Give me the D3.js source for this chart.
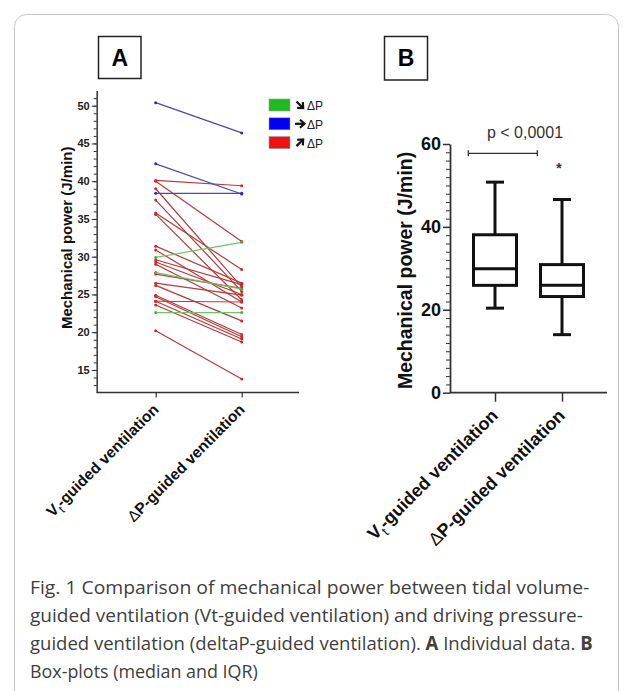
<!DOCTYPE html>
<html>
<head>
<meta charset="utf-8">
<script src="https://cdn.jsdelivr.net/npm/d3@7"></script>
<style>
body { margin: 0; background: #fff; }
svg text { font-family: "Liberation Sans", Arial, sans-serif; }
.caption { font-family: "Open Sans", sans-serif; fill: #404040; }
</style>
</head>
<body>
<svg id="fig" width="633" height="691"></svg>
<script>
// ---- data ----
const categories = ["Vt", "dP"]
// panel A : individual patients, [Vt-guided, dP-guided]
const blueLeft  = [50.4, 42.3, 38.4]
const blueRight = [46.4, 38.3, 38.4]
const greenLeft  = [29.9, 27.9, 22.6]
const greenRight = [31.9, 25.7, 22.6]
const redLeft  = [40.1, 40.0, 39.0, 37.5, 35.8, 35.6, 31.4, 30.9, 29.6, 29.3, 29.0, 27.7, 26.5, 26.2, 24.9, 24.7, 24.1, 24.1, 23.6, 20.2]
const redRight = [39.4, 32.0, 26.0, 25.4, 28.3, 24.3, 26.5, 24.0, 26.3, 25.0, 23.2, 25.8, 24.9, 21.5, 19.7, 19.4, 24.0, 19.1, 18.7, 13.8]
const yTicksA = [15, 20, 25, 30, 35, 40, 45, 50]
// panel B : box plots [min, q1, median, q3, max]
const boxVt = [20.4, 25.9, 29.9, 38.1, 50.8]
const boxDP = [14.0, 23.2, 25.9, 30.9, 46.6]
const yTicksB = [0, 20, 40, 60]
const pText = "p < 0,0001"

const svg = d3.select("#fig")

// frame
svg.append("rect").attr("x", 14.5).attr("y", 14.5).attr("width", 604).attr("height", 700)
  .attr("rx", 12).attr("fill", "none").attr("stroke", "#c8c8c8").attr("stroke-width", 1)

// ================= panel A =================
let yA = d3.scaleLinear().domain([12, 52]).range([392.6, 90.6])
let xA = d3.scalePoint().domain(categories).range([155.7, 241.7])
const axisYA = 392.6, axisXA = 96.7

// panel letter
function letterBox(x, y, w, h, t) {
  svg.append("rect").attr("x", x).attr("y", y).attr("width", w).attr("height", h)
    .attr("fill", "none").attr("stroke", "#222").attr("stroke-width", 1.5)
  svg.append("text").attr("x", x + w / 2).attr("y", y + h / 2 + 8)
    .attr("text-anchor", "middle").attr("font-size", 23).attr("font-weight", "bold").text(t)
}
letterBox(98.5, 36.5, 42.5, 42, "A")
letterBox(384.5, 36.5, 43, 43.5, "B")

// lines
function pairs(L, R, lineCol, dotCol) {
  let g = svg.append("g")
  L.forEach(function (d, i) {
    g.append("line")
      .attr("x1", xA("Vt")).attr("y1", yA(L[i]))
      .attr("x2", xA("dP")).attr("y2", yA(R[i]))
      .attr("stroke", lineCol).attr("stroke-width", 1.2)
    g.append("circle").attr("cx", xA("Vt")).attr("cy", yA(L[i])).attr("r", 1.5).attr("fill", dotCol)
    g.append("circle").attr("cx", xA("dP")).attr("cy", yA(R[i])).attr("r", 1.5).attr("fill", dotCol)
  })
}
pairs(redLeft, redRight, "#b83a3a", "#dd2222")
pairs(greenLeft, greenRight, "#6cc46c", "#44b044")
pairs(blueLeft, blueRight, "#4848b8", "#2828c0")

// y axis A
let minorA = d3.range(13, 52)
svg.append("g").attr("transform", `translate(${axisXA},0)`)
  .call(d3.axisLeft(yA).tickValues(minorA).tickSize(3).tickFormat(""))
  .call(g => g.select(".domain").remove())
  .selectAll("line").attr("stroke", "#333")
svg.append("g").attr("transform", `translate(${axisXA},0)`)
  .call(d3.axisLeft(yA).tickValues(yTicksA).tickSize(5).tickSizeOuter(0).tickPadding(2))
  .call(g => g.select(".domain").attr("stroke", "#333").attr("stroke-width", 1.5))
  .call(g => g.selectAll("text").attr("font-size", 11).attr("font-weight", "bold").attr("fill", "#222")
    .attr("font-family", "Liberation Sans, Arial, sans-serif"))
  .call(g => g.selectAll("line").attr("stroke", "#333"))

// x axis A
svg.append("line").attr("x1", axisXA).attr("x2", 299).attr("y1", axisYA).attr("y2", axisYA)
  .attr("stroke", "#333").attr("stroke-width", 1.5)
svg.append("g").attr("transform", `translate(0,${axisYA})`)
  .call(d3.axisBottom(xA).tickSize(5).tickFormat(""))
  .call(g => g.select(".domain").remove())
  .selectAll("line").attr("stroke", "#333").attr("stroke-width", 1.2)

function catLabel(x, y, size, cat) {
  let t = svg.append("text").attr("transform", `translate(${x},${y}) rotate(-45)`)
    .attr("text-anchor", "end").attr("font-size", size).attr("font-weight", "bold").attr("fill", "#111")
  if (cat == "Vt") {
    t.append("tspan").text("V")
    t.append("tspan").attr("font-size", size * 0.75).attr("font-weight", "normal").attr("dy", size * 0.3).text("t")
    t.append("tspan").attr("dy", -size * 0.3).text("-guided ventilation")
  } else {
    t.append("tspan").attr("font-weight", "normal").text("\u0394")
    t.append("tspan").text("P-guided ventilation")
  }
}
categories.forEach(c => catLabel(xA(c) + 4, axisYA + 18, 15.5, c))

// y label A
svg.append("text").attr("transform", `translate(72,${yA(32.5)}) rotate(-90)`)
  .attr("text-anchor", "middle").attr("font-size", 15).attr("font-weight", "bold").attr("fill", "#111")
  .text("Mechanical power (J/min)")

// legend A : colour swatch, bold arrow, delta P
const legendCols = ["#22b822", "#0000f0", "#ee1111"]
const legendAngles = [45, 0, -45]
legendCols.forEach(function (d, i) {
  let lg = svg.append("g").attr("transform", `translate(269,${99 + i * 18.8})`)
  lg.append("rect").attr("width", 21).attr("height", 12).attr("fill", d).attr("stroke", "#999").attr("stroke-width", 0.6)
  let ar = lg.append("g").attr("transform", `translate(31,6) rotate(${legendAngles[i]})`)
    .attr("stroke", "#111").attr("stroke-width", 2.2).attr("fill", "none")
  ar.append("line").attr("x1", -5).attr("x2", 4).attr("y1", 0).attr("y2", 0)
  ar.append("path").attr("d", "M0,-4 L4.5,0 L0,4")
  lg.append("text").attr("x", 38).attr("y", 11).attr("font-size", 12).attr("fill", "#222").text("\u0394P")
})

// ================= panel B =================
let yB = d3.scaleLinear().domain([0, 60]).range([392.7, 144])
let xB = d3.scalePoint().domain(categories).range([495, 562])
const axisXB = 450, axisYB = 392.7

svg.append("g").attr("transform", `translate(${axisXB},0)`)
  .call(d3.axisLeft(yB).tickValues(d3.range(2, 60, 2)).tickSize(4).tickFormat(""))
  .call(g => g.select(".domain").remove())
  .selectAll("line").attr("stroke", "#333")
svg.append("g").attr("transform", `translate(${axisXB},0)`)
  .call(d3.axisLeft(yB).tickValues(yTicksB).tickSize(7).tickSizeOuter(0).tickPadding(2))
  .call(g => g.select(".domain").attr("stroke", "#333").attr("stroke-width", 1.8))
  .call(g => g.selectAll("text").attr("font-size", 18).attr("font-weight", "bold").attr("fill", "#111")
    .attr("font-family", "Liberation Sans, Arial, sans-serif"))
  .call(g => g.selectAll("line").attr("stroke", "#333").attr("stroke-width", 1.5))

svg.append("line").attr("x1", axisXB).attr("x2", 607).attr("y1", axisYB).attr("y2", axisYB)
  .attr("stroke", "#333").attr("stroke-width", 1.8)
svg.append("g").attr("transform", `translate(0,${axisYB})`)
  .call(d3.axisBottom(xB).tickSize(9).tickFormat(""))
  .call(g => g.select(".domain").remove())
  .selectAll("line").attr("stroke", "#333").attr("stroke-width", 1.5)

categories.forEach(c => catLabel(xB(c) + 4, axisYB + 24, 18, c))

svg.append("text").attr("transform", `translate(412,${yB(29.5)}) rotate(-90)`)
  .attr("text-anchor", "middle").attr("font-size", 19.5).attr("font-weight", "bold").attr("fill", "#111")
  .text("Mechanical power (J/min)")

// boxes
const boxes = [boxVt, boxDP]
const boxW = 43, capW = 18
boxes.forEach(function (b, i) {
  let cx = xB(categories[i])
  let g = svg.append("g").attr("stroke", "#111").attr("stroke-width", 3).attr("fill", "none")
  g.append("line").attr("x1", cx).attr("x2", cx).attr("y1", yB(b[0])).attr("y2", yB(b[1]))
  g.append("line").attr("x1", cx).attr("x2", cx).attr("y1", yB(b[3])).attr("y2", yB(b[4]))
  g.append("line").attr("x1", cx - capW / 2).attr("x2", cx + capW / 2).attr("y1", yB(b[0])).attr("y2", yB(b[0]))
  g.append("line").attr("x1", cx - capW / 2).attr("x2", cx + capW / 2).attr("y1", yB(b[4])).attr("y2", yB(b[4]))
  g.append("rect").attr("x", cx - boxW / 2).attr("y", yB(b[3])).attr("width", boxW).attr("height", yB(b[1]) - yB(b[3]))
  g.append("line").attr("x1", cx - boxW / 2).attr("x2", cx + boxW / 2).attr("y1", yB(b[2])).attr("y2", yB(b[2]))
})

// significance bracket
let brY = 153.3
svg.append("line").attr("x1", 468.3).attr("x2", 537.3).attr("y1", brY).attr("y2", brY).attr("stroke", "#333").attr("stroke-width", 1.3)
;[468.3, 537.3].forEach(x => svg.append("line").attr("x1", x).attr("x2", x).attr("y1", brY - 3).attr("y2", brY + 3)
  .attr("stroke", "#333").attr("stroke-width", 1.3))
svg.append("text").attr("x", 525).attr("y", 138).attr("text-anchor", "middle").attr("font-size", 16)
  .attr("fill", "#333").text(pText)
svg.append("text").attr("x", xB("dP") - 3).attr("y", 173).attr("text-anchor", "middle").attr("font-size", 14)
  .attr("font-weight", "bold").attr("fill", "#333").text("*")

// ================= caption =================
const captionLines = [
  [["Fig. 1 Comparison of mechanical power between tidal volume-", false]],
  [["guided ventilation (Vt-guided ventilation) and driving pressure-", false]],
  [["guided ventilation (deltaP-guided ventilation). ", false], ["A", true], [" Individual data. ", false], ["B", true]],
  [["Box-plots (median and IQR)", false]]
]
const captionWidths = [560, 553, 563, 228]
captionLines.forEach(function (ln, i) {
  let t = svg.append("text").attr("class", "caption").attr("x", 0).attr("y", 0).attr("font-size", 19)
  ln.forEach(p => t.append("tspan").attr("font-weight", p[1] ? "bold" : "normal").text(p[0]))
  // squeeze each line horizontally to the width it has in the figure
  let w = t.node().getComputedTextLength()
  t.attr("transform", `translate(30,${594 + i * 28}) scale(${captionWidths[i] / w},1)`)
})
</script>
</body>
</html>
